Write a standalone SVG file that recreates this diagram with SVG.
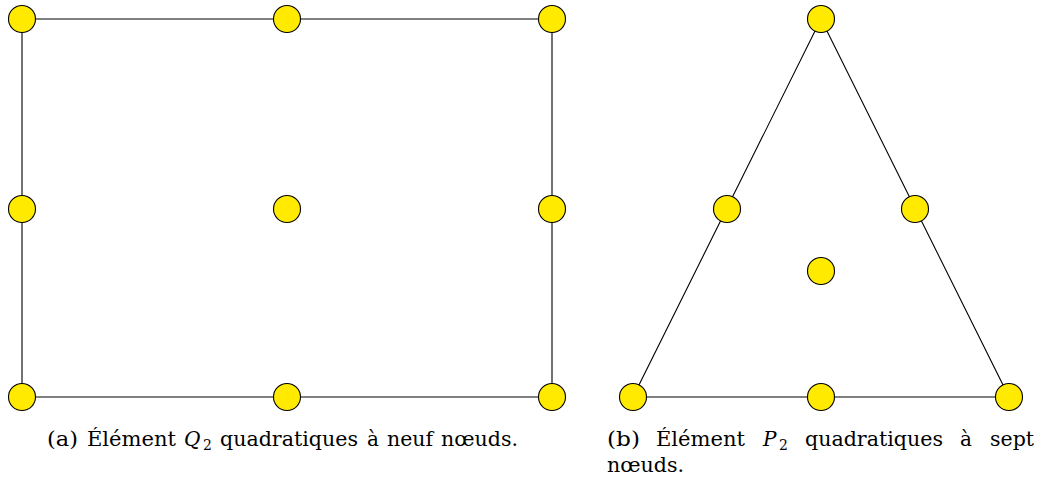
<svg xmlns="http://www.w3.org/2000/svg" width="1040" height="481" viewBox="0 0 1040 481">
<style>
.edge{stroke:#000;stroke-width:1.1;fill:none}
.node circle{fill:#FFEA00;stroke:#000;stroke-width:1.1}
.cap{font-family:"DejaVu Serif","Liberation Serif",serif;font-size:20px;fill:#000}
.it{font-style:italic}
.sub{font-size:14px}
</style>
<rect width="1040" height="481" fill="#fff"/>
<g id="connectors">
<polygon class="edge" points="22,19 552,19 552,397 22,397"/>
<polygon class="edge" points="821,19 1009,397 633,397"/>
</g>
<g id="n_q1" class="node"><circle cx="22" cy="19" r="13.5"/></g>
<g id="n_q2" class="node"><circle cx="287" cy="19" r="13.5"/></g>
<g id="n_q3" class="node"><circle cx="552" cy="19" r="13.5"/></g>
<g id="n_q4" class="node"><circle cx="22" cy="209" r="13.5"/></g>
<g id="n_q5" class="node"><circle cx="287" cy="209" r="13.5"/></g>
<g id="n_q6" class="node"><circle cx="552" cy="209" r="13.5"/></g>
<g id="n_q7" class="node"><circle cx="22" cy="397" r="13.5"/></g>
<g id="n_q8" class="node"><circle cx="287" cy="397" r="13.5"/></g>
<g id="n_q9" class="node"><circle cx="552" cy="397" r="13.5"/></g>
<g id="n_t1" class="node"><circle cx="821" cy="19" r="13.5"/></g>
<g id="n_t2" class="node"><circle cx="727" cy="209" r="13.5"/></g>
<g id="n_t3" class="node"><circle cx="915" cy="209" r="13.5"/></g>
<g id="n_t4" class="node"><circle cx="821" cy="271" r="13.5"/></g>
<g id="n_t5" class="node"><circle cx="633" cy="397" r="13.5"/></g>
<g id="n_t6" class="node"><circle cx="821" cy="397" r="13.5"/></g>
<g id="n_t7" class="node"><circle cx="1009" cy="397" r="13.5"/></g>
<g id="captions">
<text class="cap" y="446"><tspan x="47" textLength="31" lengthAdjust="spacingAndGlyphs">(a)</tspan><tspan x="87" textLength="89" lengthAdjust="spacingAndGlyphs">Élément</tspan><tspan x="184" class="it">Q</tspan><tspan x="203" dy="4" class="sub">2</tspan><tspan x="220" dy="-4" textLength="138" lengthAdjust="spacingAndGlyphs">quadratiques</tspan><tspan x="367">à</tspan><tspan x="387" textLength="46" lengthAdjust="spacingAndGlyphs">neuf</tspan><tspan x="441" textLength="77" lengthAdjust="spacingAndGlyphs">nœuds.</tspan></text>
<text class="cap" y="446"><tspan x="607" textLength="33" lengthAdjust="spacingAndGlyphs">(b)</tspan><tspan x="656" textLength="89" lengthAdjust="spacingAndGlyphs">Élément</tspan><tspan x="763" class="it">P</tspan><tspan x="779" dy="4" class="sub">2</tspan><tspan x="805" dy="-4" textLength="138" lengthAdjust="spacingAndGlyphs">quadratiques</tspan><tspan x="960">à</tspan><tspan x="990" textLength="44" lengthAdjust="spacingAndGlyphs">sept</tspan></text>
<text class="cap" x="607" y="472" textLength="77" lengthAdjust="spacingAndGlyphs">nœuds.</text>
</g>
</svg>
